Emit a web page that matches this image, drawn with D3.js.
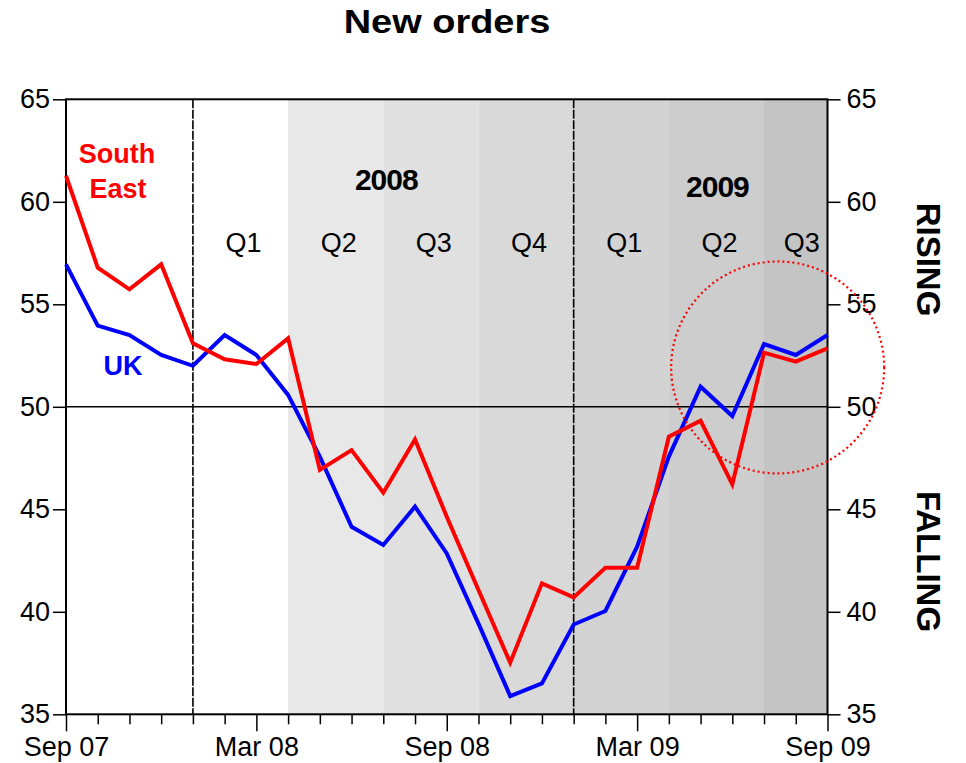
<!DOCTYPE html>
<html>
<head>
<meta charset="utf-8">
<script src="https://cdn.jsdelivr.net/npm/d3@7"></script>
<style>
  body { margin: 0; background: #fff; }
  svg text { font-family: "Liberation Sans", Arial, sans-serif; }
</style>
</head>
<body>
<div id="plotDiv"></div>
<script>
// --- Data ---
const months = ["Sep 07","Oct 07","Nov 07","Dec 07","Jan 08","Feb 08","Mar 08","Apr 08","May 08","Jun 08","Jul 08","Aug 08","Sep 08",
  "Oct 08","Nov 08","Dec 08","Jan 09","Feb 09","Mar 09","Apr 09","May 09","Jun 09","Jul 09","Aug 09","Sep 09"];
const ukValues = [56.95,53.96,53.5,52.53,52.0,53.5,52.53,50.58,47.57,44.15,43.26,45.13,42.85,
  39.42,35.89,36.51,39.38,40.04,43.18,47.57,50.98,49.55,53.06,52.53,53.5];
const southEastValues = [61.27,56.79,55.73,56.95,53.1,52.32,52.09,53.34,46.92,47.89,45.81,48.41,44.64,
  41.06,37.52,41.39,40.7,42.15,42.15,48.54,49.32,46.22,52.64,52.2,52.85];
const quarterLabels = ["Q1","Q2","Q3","Q4","Q1","Q2","Q3"];
const quarterStarts = ["Jan 08","Apr 08","Jul 08","Oct 08","Jan 09","Apr 09","Jul 09"];
const quarterEnds   = ["Apr 08","Jul 08","Oct 08","Jan 09","Apr 09","Jul 09","Sep 09"];
const yearLabels = ["2008","2009"];
const yearStarts = ["Jan 08","Jan 09"];
const yTicks = [35,40,45,50,55,60,65];
const majorTicks = ["Sep 07","Mar 08","Sep 08","Mar 09","Sep 09"];

// --- Definitions ---
const width = 966, height = 763;
const plot = {left: 66, right: 827.5, top: 99.3, bottom: 714.3};
const bandFills = ["#ffffff","#e8e8e8","#e0e0e0","#d9d9d9","#d3d3d3","#cdcdcd","#c4c4c4"];

const svg = d3.select("#plotDiv").append("svg")
  .attr("width", width).attr("height", height);

const x = d3.scaleLinear().domain([0, months.length - 1]).range([plot.left, plot.right]);
const xm = m => x(months.indexOf(m));
const y = d3.scaleLinear().domain([35, 65]).range([plot.bottom, plot.top]);

// --- Quarter shading ---
svg.append("g").selectAll("rect")
  .data(quarterLabels)
  .join("rect")
  .attr("x", (d, i) => xm(quarterStarts[i]))
  .attr("width", (d, i) => xm(quarterEnds[i]) - xm(quarterStarts[i]))
  .attr("y", plot.top)
  .attr("height", plot.bottom - plot.top)
  .attr("fill", (d, i) => bandFills[i]);

// --- Year dividers (dashed) ---
svg.append("g").selectAll("line")
  .data(yearStarts)
  .join("line")
  .attr("x1", d => xm(d)).attr("x2", d => xm(d))
  .attr("y1", plot.top).attr("y2", plot.bottom)
  .attr("stroke", "#000").attr("stroke-width", 1.6)
  .attr("stroke-dasharray", "9,1.5");

// 50 line
svg.append("line")
  .attr("x1", plot.left).attr("x2", plot.right)
  .attr("y1", y(50)).attr("y2", y(50))
  .attr("stroke", "#000").attr("stroke-width", 1.5);

// --- Axes ---
const leftAxis = svg.append("g")
  .attr("transform", `translate(${plot.left},0)`)
  .call(d3.axisLeft(y).tickValues(yTicks).tickSize(13).tickPadding(3));
const rightAxis = svg.append("g")
  .attr("transform", `translate(${plot.right},0)`)
  .call(d3.axisRight(y).tickValues(yTicks).tickSize(13).tickPadding(6));
const bottomAxis = svg.append("g")
  .attr("transform", `translate(0,${plot.bottom})`)
  .call(d3.axisBottom(x).tickValues(d3.range(months.length)).tickSize(10).tickPadding(13)
    .tickFormat(i => majorTicks.includes(months[i]) ? months[i] : ""));
bottomAxis.selectAll(".tick line")
  .attr("y2", i => majorTicks.includes(months[i]) ? 17 : 10);

[leftAxis, rightAxis, bottomAxis].forEach(g => {
  g.select(".domain").remove();
  g.selectAll(".tick line").attr("stroke", "#000").attr("stroke-width", 1.5);
  g.selectAll("text").attr("font-size", 27).attr("fill", "#000")
    .style("font-family", "'Liberation Sans', Arial, sans-serif");
});

// plot frame
svg.append("rect")
  .attr("x", plot.left).attr("y", plot.top)
  .attr("width", plot.right - plot.left).attr("height", plot.bottom - plot.top)
  .attr("fill", "none").attr("stroke", "#000").attr("stroke-width", 2);

// --- Lines ---
const line = d3.line().x((d, i) => x(i)).y(d => y(d));
svg.append("path").datum(ukValues)
  .attr("d", line).attr("fill", "none")
  .attr("stroke", "#0000ff").attr("stroke-width", 4).attr("stroke-linejoin", "miter");
svg.append("path").datum(southEastValues)
  .attr("d", line).attr("fill", "none")
  .attr("stroke", "#ff0000").attr("stroke-width", 4).attr("stroke-linejoin", "miter");

// --- Dotted highlight circle ---
svg.append("ellipse")
  .attr("cx", x(22.43)).attr("cy", y(51.92))
  .attr("rx", 106.5).attr("ry", 106)
  .attr("fill", "none").attr("stroke", "#ff0000").attr("stroke-width", 2.2)
  .attr("stroke-dasharray", "2,3");

// --- Labels ---
svg.append("text")
  .attr("x", 447).attr("y", 33)
  .attr("text-anchor", "middle").attr("font-size", 33).attr("font-weight", "bold")
  .attr("transform", "translate(447,0) scale(1.15,1) translate(-447,0)")
  .text("New orders");

svg.selectAll(".qlab")
  .data(quarterLabels)
  .join("text")
  .attr("class", "qlab")
  .attr("x", (d, i) => (xm(quarterStarts[i]) + xm(quarterEnds[i])) / 2 + (i === 6 ? 6 : 3))
  .attr("y", 252)
  .attr("text-anchor", "middle").attr("font-size", 27)
  .text(d => d);

svg.selectAll(".ylab")
  .data(yearLabels)
  .join("text")
  .attr("class", "ylab")
  .attr("x", (d, i) => i === 0 ? xm("Jul 08") + 3 : x(20.5) + 1)
  .attr("y", (d, i) => i === 0 ? 190 : 197)
  .attr("text-anchor", "middle").attr("font-size", 30).attr("font-weight", "bold")
  .style("letter-spacing", "-1px")
  .text(d => d);

const seLabel = svg.append("text")
  .attr("text-anchor", "middle").attr("font-size", 27).attr("font-weight", "bold")
  .attr("fill", "#ff0000");
seLabel.append("tspan").attr("x", 117).attr("y", 163).text("South");
seLabel.append("tspan").attr("x", 118).attr("y", 198).text("East");

svg.append("text")
  .attr("x", 123).attr("y", 375)
  .attr("text-anchor", "middle").attr("font-size", 27).attr("font-weight", "bold")
  .attr("fill", "#0000ff")
  .text("UK");

[["RISING", 259.5], ["FALLING", 561.5]].forEach(([t, cy]) => {
  svg.append("text")
    .attr("transform", `translate(928.5,${cy}) rotate(90)`)
    .attr("text-anchor", "middle").attr("dominant-baseline", "central")
    .attr("font-size", 33).attr("font-weight", "bold")
    .text(t);
});
</script>
</body>
</html>
